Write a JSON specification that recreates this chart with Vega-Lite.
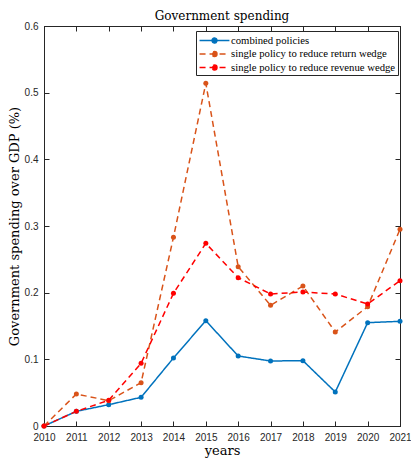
{
  "$schema": "https://vega.github.io/schema/vega-lite/v6.json",
  "autosize": {"type": "none"},
  "width": 356,
  "height": 400,
  "padding": {"left": 44, "top": 26, "right": 11, "bottom": 34},
  "title": {"text": "Government spending", "font": "DejaVu Serif", "fontSize": 12, "fontWeight": "normal", "color": "#000000", "offset": -2},
  "config": {
    "view": {"stroke": "#262626", "strokeWidth": 1},
    "axis": {"grid": false, "domainColor": "#262626", "tickColor": "#262626", "labelColor": "#262626", "labelFont": "Liberation Sans", "labelFontSize": 10, "titleFont": "DejaVu Serif", "titleFontWeight": "normal", "titleFontSize": 13, "titleColor": "#000000", "tickSize": -5, "labelPadding": 11}
  },
  "data": {"values": [
    {"year": 2010, "series": "combined policies", "v": 0},
    {"year": 2011, "series": "combined policies", "v": 0.022},
    {"year": 2012, "series": "combined policies", "v": 0.032},
    {"year": 2013, "series": "combined policies", "v": 0.043},
    {"year": 2014, "series": "combined policies", "v": 0.102},
    {"year": 2015, "series": "combined policies", "v": 0.158},
    {"year": 2016, "series": "combined policies", "v": 0.105},
    {"year": 2017, "series": "combined policies", "v": 0.0975},
    {"year": 2018, "series": "combined policies", "v": 0.098},
    {"year": 2019, "series": "combined policies", "v": 0.051},
    {"year": 2020, "series": "combined policies", "v": 0.155},
    {"year": 2021, "series": "combined policies", "v": 0.157},
    {"year": 2010, "series": "single policy to reduce return wedge", "v": 0},
    {"year": 2011, "series": "single policy to reduce return wedge", "v": 0.048},
    {"year": 2012, "series": "single policy to reduce return wedge", "v": 0.038},
    {"year": 2013, "series": "single policy to reduce return wedge", "v": 0.065},
    {"year": 2014, "series": "single policy to reduce return wedge", "v": 0.283},
    {"year": 2015, "series": "single policy to reduce return wedge", "v": 0.514},
    {"year": 2016, "series": "single policy to reduce return wedge", "v": 0.239},
    {"year": 2017, "series": "single policy to reduce return wedge", "v": 0.181},
    {"year": 2018, "series": "single policy to reduce return wedge", "v": 0.21},
    {"year": 2019, "series": "single policy to reduce return wedge", "v": 0.141},
    {"year": 2020, "series": "single policy to reduce return wedge", "v": 0.179},
    {"year": 2021, "series": "single policy to reduce return wedge", "v": 0.295},
    {"year": 2010, "series": "single policy to reduce revenue wedge", "v": 0},
    {"year": 2011, "series": "single policy to reduce revenue wedge", "v": 0.022},
    {"year": 2012, "series": "single policy to reduce revenue wedge", "v": 0.0387},
    {"year": 2013, "series": "single policy to reduce revenue wedge", "v": 0.094},
    {"year": 2014, "series": "single policy to reduce revenue wedge", "v": 0.199},
    {"year": 2015, "series": "single policy to reduce revenue wedge", "v": 0.274},
    {"year": 2016, "series": "single policy to reduce revenue wedge", "v": 0.2225},
    {"year": 2017, "series": "single policy to reduce revenue wedge", "v": 0.198},
    {"year": 2018, "series": "single policy to reduce revenue wedge", "v": 0.201},
    {"year": 2019, "series": "single policy to reduce revenue wedge", "v": 0.198},
    {"year": 2020, "series": "single policy to reduce revenue wedge", "v": 0.183},
    {"year": 2021, "series": "single policy to reduce revenue wedge", "v": 0.218}
  ]},
  "resolve": {"axis": {"x": "independent", "y": "independent"}},
  "layer": [
    {
      "mark": {"type": "line", "strokeWidth": 1.5, "point": {"filled": true, "size": 25}},
      "encoding": {
        "x": {"field": "year", "type": "quantitative", "scale": {"domain": [2010, 2021], "nice": false, "zero": false},
              "axis": {"orient": "bottom", "title": "years", "values": [2010,2011,2012,2013,2014,2015,2016,2017,2018,2019,2020,2021], "format": "d", "titlePadding": 2, "labelFlush": false}},
        "y": {"field": "v", "type": "quantitative", "scale": {"domain": [0, 0.6], "nice": false},
              "axis": {"orient": "left", "title": "Government spending over GDP (%)", "values": [0,0.1,0.2,0.3,0.4,0.5,0.6], "labelExpr": "datum.value == 0 ? '0' : format(datum.value, '.1f')", "titlePadding": 3}},
        "color": {"field": "series", "type": "nominal",
                  "scale": {"domain": ["combined policies", "single policy to reduce return wedge", "single policy to reduce revenue wedge"], "range": ["#0072BD", "#D95319", "#FF0000"]},
                  "legend": {"title": null, "orient": "none", "legendX": 152, "legendY": 5, "strokeColor": "#262626", "fillColor": "#ffffff", "padding": 2, "labelFont": "Liberation Serif", "labelFontSize": 10.7, "labelColor": "#000000", "labelLimit": 0, "symbolSize": 169, "symbolStrokeWidth": 1.5, "symbolType": "M-2.3,0H2.3M0.38,0A0.38,0.38,0,1,1,-0.38,0A0.38,0.38,0,1,1,0.38,0Z", "symbolOffset": 9, "rowPadding": 0.5, "labelOffset": 9, "cornerRadius": 0}},
        "strokeDash": {"field": "series", "type": "nominal",
                  "scale": {"domain": ["combined policies", "single policy to reduce return wedge", "single policy to reduce revenue wedge"], "range": [[1,0],[6,4],[6,4]]}}
      }
    },
    {
      "mark": {"type": "point", "opacity": 0},
      "encoding": {
        "x": {"field": "year", "type": "quantitative", "scale": {"domain": [2010, 2021], "nice": false, "zero": false},
              "axis": {"orient": "top", "title": null, "labels": false, "values": [2010,2011,2012,2013,2014,2015,2016,2017,2018,2019,2020,2021]}},
        "y": {"field": "v", "type": "quantitative", "scale": {"domain": [0, 0.6], "nice": false},
              "axis": {"orient": "right", "title": null, "labels": false, "values": [0,0.1,0.2,0.3,0.4,0.5,0.6]}}
      }
    }
  ]
}
